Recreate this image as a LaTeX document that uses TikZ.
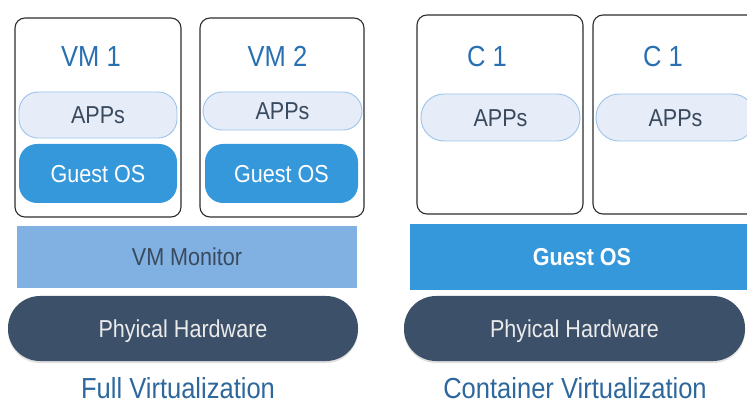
\documentclass[tikz,border=0pt]{standalone}
\usepackage{fontspec}
\setmainfont{Liberation Sans}[FakeStretch=0.88]
\usetikzlibrary{shadows}
\definecolor{framegray}{HTML}{2E2E2E}
\definecolor{titleblue}{HTML}{2870B2}
\definecolor{appfill}{HTML}{E6EDF8}
\definecolor{appline}{HTML}{9DC4EA}
\definecolor{apptext}{HTML}{3A4A5E}
\definecolor{osblue}{HTML}{3598DA}
\definecolor{monblue}{HTML}{80B1E2}
\definecolor{hwslate}{HTML}{3C5169}
\definecolor{captionblue}{HTML}{2D679C}
\tikzset{
  frame/.style={draw=framegray, line width=1.1pt, rounded corners=10pt, fill=white, inner sep=0pt},
  title/.style={font=\fontsize{29}{31}\selectfont, text=titleblue, inner sep=0pt, text height=20.5pt, text depth=0pt},
  body/.style={font=\fontsize{24.5}{26}\selectfont, inner sep=0pt, text height=17.5pt, text depth=0pt},
  apps/.style={body, draw=appline, line width=0.9pt, fill=appfill, text=apptext, rounded corners=19pt},
  guestos/.style={body, fill=osblue, text=white, rounded corners=18pt},
  monitor/.style={body, fill=monblue, text=apptext},
  hardware/.style={body, fill=hwslate, text=white!92!black, rounded corners=32pt,
    drop shadow={opacity=0.25, shadow xshift=0pt, shadow yshift=-2pt}},
  caption/.style={title, text=captionblue},
}
\begin{document}
\begin{tikzpicture}[x=1pt, y=-1pt]
\useasboundingbox (0,0) rectangle (747,403);
\clip (0,0) rectangle (747,403);

% virtual machines
\node[frame, minimum width=166pt, minimum height=199pt] (vm1) at (98,117.5) {};
\node[frame, minimum width=164pt, minimum height=199pt] (vm2) at (282,117.5) {};
\node[title] (vm1t) at (91,56.5) {VM 1};
\node[title] (vm2t) at (277.5,56.5) {VM 2};
\node[apps, minimum width=158pt, minimum height=46pt] (vm1a) at (98,115) {APPs};
\node[apps, minimum width=159pt, minimum height=38pt] (vm2a) at (282.5,111) {APPs};
\node[guestos, minimum width=158pt, minimum height=59pt] (vm1o) at (98,173.5) {Guest OS};
\node[guestos, minimum width=153pt, minimum height=59pt] (vm2o) at (281.5,173.5) {Guest OS};

% containers
\node[frame, minimum width=166pt, minimum height=199pt] (c1) at (500,114.5) {};
\node[frame, minimum width=166pt, minimum height=199pt] (c2) at (676,114.5) {};
\node[title] (c1t) at (487,56.5) {C 1};
\node[title] (c2t) at (663,56.5) {C 1};
\node[apps, minimum width=159pt, minimum height=47pt, rounded corners=23pt] (c1a) at (500.5,117.5) {APPs};
\node[apps, minimum width=159pt, minimum height=47pt, rounded corners=23pt] (c2a) at (675.5,117.5) {APPs};

% lower layers
\node[monitor, minimum width=340pt, minimum height=62pt] (mon) at (187,257) {VM Monitor};
\node[body, fill=osblue, text=white, minimum width=350pt, minimum height=66pt, text height=17pt] (hos) at (585,257)
  {\hspace*{-6pt}\bfseries Guest OS};
\node[hardware, minimum width=350pt, minimum height=65pt] (hw1) at (183,328.5) {Phyical Hardware};
\node[hardware, minimum width=341pt, minimum height=65pt] (hw2) at (574.5,328.5) {Phyical Hardware};

% captions
\node[caption] (cap1) at (178,388.5) {Full Virtualization};
\node[caption] (cap2) at (575,388.5) {Container Virtualization};
\end{tikzpicture}
\end{document}
